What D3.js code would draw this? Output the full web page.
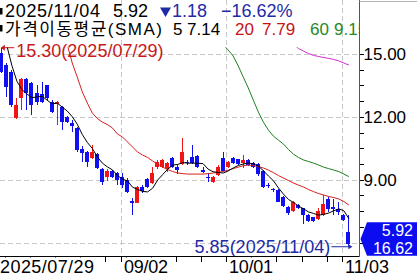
<!DOCTYPE html>
<html>
<head>
<meta charset="utf-8">
<script src="https://cdn.jsdelivr.net/npm/d3@7"></script>
<style>
  body { margin: 0; background: #fff; }
  svg { display: block; font-family: "Liberation Sans", "Noto Sans CJK KR", sans-serif; }
</style>
</head>
<body>
<svg></svg>
<script>
//initialize variables
var svgWidth = 417;
var svgHeight = 277;

// trading days, 2025/07/29 .. 2025/11/04
var dates = ["07/29","07/30","07/31","08/01","08/04","08/05","08/06","08/07","08/08","08/11",
             "08/12","08/13","08/14","08/15","08/18","08/19","08/20","08/21","08/22","08/25",
             "08/26","08/27","08/28","08/29","09/02","09/03","09/04","09/05","09/08","09/09",
             "09/10","09/11","09/12","09/15","09/16","09/17","09/18","09/19","09/22","09/23",
             "09/24","09/25","09/26","09/29","09/30","10/01","10/02","10/03","10/06","10/07",
             "10/08","10/09","10/10","10/13","10/14","10/15","10/16","10/17","10/20","10/21",
             "10/22","10/23","10/24","10/27","10/28","10/29","10/30","10/31","11/03","11/04"];

var opens  = [15.03,14.47,14.15,11.93,12.88,13.79,13.60,13.12,13.08,13.52,
              12.72,12.61,12.48,12.01,11.72,11.45,10.45,10.33,10.02,10.22,
              9.49,9.14,9.41,9.30,9.14,8.98,7.98,7.90,8.66,9.02,
              8.85,9.59,9.62,9.49,10.02,9.62,9.75,9.86,10.07,10.13,
              9.46,9.14,8.90,9.22,10.02,9.59,10.02,9.97,9.78,9.94,
              9.78,9.75,9.40,8.77,8.56,8.51,8.19,7.71,7.50,7.79,
              7.63,7.31,7.20,7.12,7.31,8.06,7.71,7.58,7.31,6.51];
var highs  = [15.30,14.56,14.24,12.88,13.87,13.84,13.68,13.52,13.68,13.52,
              12.80,12.78,12.52,12.04,11.85,11.50,10.61,10.39,10.65,10.29,
              9.54,9.49,9.46,9.36,9.33,9.06,8.11,8.70,8.74,9.06,
              9.62,9.94,9.97,9.83,10.08,9.70,10.97,9.92,10.65,10.20,
              9.59,9.30,9.18,9.70,10.33,9.88,10.10,10.00,10.18,10.00,
              9.83,9.80,9.45,8.86,8.59,8.56,8.22,7.75,7.98,7.83,
              7.66,7.36,7.24,7.63,8.27,8.19,8.06,7.96,7.36,7.31];
var lows   = [14.09,12.96,12.48,11.90,12.33,12.33,12.09,12.56,12.65,12.80,
              12.20,11.61,11.37,11.72,11.29,10.33,9.86,9.62,9.97,9.53,
              8.74,8.95,9.08,8.74,8.59,8.35,7.31,7.87,8.35,8.59,
              8.82,9.49,9.54,9.38,9.54,9.27,9.70,9.72,9.75,9.55,
              9.30,8.87,8.86,9.18,9.40,9.55,9.75,9.72,9.54,9.65,
              9.58,9.20,8.60,8.59,8.42,7.92,7.72,7.33,7.45,7.58,
              6.91,6.99,7.00,7.08,7.28,7.44,7.31,7.33,7.04,5.85];
var closes = [14.14,13.44,12.56,12.56,13.79,13.12,12.56,12.72,12.72,12.88,
              12.24,12.72,11.77,11.77,11.56,10.42,10.29,9.86,10.33,9.57,
              8.90,9.41,9.14,8.98,8.74,8.42,7.90,8.66,8.46,8.66,
              9.33,9.86,9.94,9.78,9.59,9.46,10.33,9.78,9.78,9.59,
              9.35,9.06,9.14,9.62,9.43,9.83,9.78,9.75,9.94,9.70,
              9.62,9.25,8.66,8.69,8.51,7.95,7.76,7.39,7.95,7.63,
              7.31,7.04,7.04,7.52,7.84,7.60,7.62,7.46,7.10,5.92];

// moving averages as drawn (null = not on screen)
var ma5   = [16.00,15.40,14.45,13.70,13.30,13.09,12.92,12.95,12.98,12.80,
             12.62,12.66,12.47,12.28,12.01,11.65,11.16,10.78,10.49,10.09,
             9.79,9.61,9.47,9.20,9.03,8.94,8.64,8.54,8.44,8.42,
             8.60,8.99,9.25,9.51,9.70,9.73,9.82,9.79,9.79,9.79,
             9.77,9.51,9.38,9.35,9.32,9.42,9.56,9.68,9.75,9.80,
             9.76,9.65,9.43,9.18,8.95,8.61,8.31,8.06,7.91,7.74,
             7.61,7.46,7.39,7.31,7.35,7.41,7.52,7.61,7.52,7.14];
var ma20  = [null,null,null,null,null,null,null,null,null,null,
             null,null,null,15.45,14.57,13.90,13.19,12.66,12.18,11.92,
             11.75,11.63,11.47,11.18,11.04,10.80,10.56,10.32,10.18,10.06,
             9.89,9.75,9.60,9.48,9.39,9.32,9.29,9.27,9.27,9.27,
             9.27,9.29,9.32,9.36,9.39,9.46,9.53,9.60,9.67,9.70,
             9.67,9.63,9.56,9.46,9.34,9.20,9.08,8.96,8.84,8.74,
             8.65,8.53,8.43,8.34,8.27,8.20,8.15,8.08,7.96,7.79];
var ma60  = [null,null,null,null,null,null,null,null,null,null,
             null,null,null,null,null,null,null,null,null,null,
             null,null,null,null,null,null,null,null,null,null,
             null,null,null,null,null,null,null,null,null,null,
             null,null,null,null,15.45,15.19,14.90,14.43,13.90,13.38,
             12.80,12.23,11.75,11.37,11.08,10.89,10.70,10.44,10.22,10.06,
             9.94,9.87,9.79,9.70,9.60,9.53,9.46,9.39,9.27,9.15];
var ma120 = [null,null,null,null,null,null,null,null,null,null,
             null,null,null,null,null,null,null,null,null,null,
             null,null,null,null,null,null,null,null,null,null,
             null,null,null,null,null,null,null,null,null,null,
             null,null,null,null,null,null,null,null,null,null,
             null,null,null,null,null,null,null,null,15.45,15.26,
             15.14,15.02,14.93,14.88,14.83,14.79,14.74,14.67,14.57,14.47];

var yTickValues = [15, 12, 9, 6];
var gridDates = ["09/02", "10/01", "11/03"];
var labelDates = ["09/02", "10/01", "11/03"];
var firstLabel = "2025/07/29";
var lastDate = "2025/11/04";

var upColor = "#f01414", downColor = "#1010f0";
var navy = "#1f2aa6";

var svg = d3.select("svg")
            .attr("width", svgWidth)
            .attr("height", svgHeight);

var plotRight = 359.5;
var plotBottom = 256.5;

var x = d3.scaleBand().domain(d3.range(dates.length)).range([-1.2, 350.9]);
var y = d3.scaleLinear().domain([6, 15]).range([242.6, 54]);
function cx(i){ return x(i) + x.bandwidth() / 2; }

var hiIdx = d3.maxIndex(highs);
var loIdx = d3.minIndex(lows);
var yTop = y(highs[hiIdx]) - 0.5;

var defs = svg.append("defs");
defs.append("clipPath").attr("id", "plotClip").append("rect")
    .attr("x", 0).attr("y", yTop).attr("width", plotRight).attr("height", plotBottom - yTop);
defs.append("clipPath").attr("id", "legendClip").append("rect")
    .attr("x", 0).attr("y", 0).attr("width", plotRight).attr("height", 45);

//gridlines
var grid = svg.append("g").attr("stroke", "#c8c8c8").attr("stroke-dasharray", "5,3");
grid.selectAll("line.h").data(yTickValues).enter().append("line")
    .attr("x1", 0).attr("x2", plotRight)
    .attr("y1", function(d){ return Math.round(y(d)) + 0.5; })
    .attr("y2", function(d){ return Math.round(y(d)) + 0.5; });
grid.selectAll("line.v").data(gridDates).enter().append("line")
    .attr("x1", function(d){ return Math.round(x(dates.indexOf(d))) + 1.5; })
    .attr("x2", function(d){ return Math.round(x(dates.indexOf(d))) + 1.5; })
    .attr("y1", 0).attr("y2", plotBottom);

//candles
var plot = svg.append("g").attr("clip-path", "url(#plotClip)");
var candles = plot.selectAll("g.candle").data(d3.range(dates.length)).enter().append("g")
    .attr("shape-rendering", "crispEdges")
    .attr("fill", function(i){ return closes[i] >= opens[i] ? upColor : downColor; });
candles.append("rect")
    .attr("x", function(i){ return Math.round(cx(i) - 2) + 2; })
    .attr("width", 1)
    .attr("y", function(i){ return y(highs[i]); })
    .attr("height", function(i){ return y(lows[i]) - y(highs[i]); });
candles.append("rect")
    .attr("x", function(i){ return Math.round(cx(i) - 2); })
    .attr("width", 4)
    .attr("y", function(i){ return y(Math.max(opens[i], closes[i])); })
    .attr("height", function(i){ return Math.max(1, Math.abs(y(opens[i]) - y(closes[i]))); });

//moving average lines
var maSeries = [
  { values: ma120, color: "#d22cd2" },
  { values: ma60,  color: "#1f7f1f" },
  { values: ma20,  color: "#d42020" },
  { values: ma5,   color: "#000000" }
];
var line = d3.line()
    .defined(function(d){ return d != null; })
    .x(function(d, i){ return cx(i) + 0.5; })
    .y(function(d){ return y(d); });
plot.selectAll("path.ma").data(maSeries).enter().append("path")
    .attr("fill", "none")
    .attr("stroke", function(s){ return s.color; })
    .attr("stroke-width", 1)
    .attr("d", function(s){ return line(s.values); });

//high / low markers
var yh = y(highs[hiIdx]);
var hx = cx(hiIdx);
var hi = svg.append("g").attr("fill", "#c81818").attr("stroke", "#c81818");
hi.append("line").attr("x1", hx + 2).attr("x2", hx + 13).attr("y1", yh).attr("y2", yh);
hi.append("path").attr("stroke", "none")
  .attr("d", "M" + (hx - 0.5) + "," + yh + "l4,-3v6z");
hi.append("text").attr("stroke", "none").attr("font-size", 18)
  .attr("x", hx + 15).attr("y", yh + 9)
  .text(highs[hiIdx].toFixed(2) + "(" + firstLabel + ")");

var yl = y(lows[loIdx]) + 1;
var lx = cx(loIdx);
var lo = svg.append("g").attr("fill", navy).attr("stroke", navy);
lo.append("line").attr("x1", lx - 17).attr("x2", lx + 1).attr("y1", yl).attr("y2", yl);
lo.append("path").attr("stroke", "none")
  .attr("d", "M" + (lx + 4) + "," + yl + "l-4,-2.5v5z");
lo.append("text").attr("stroke", "none").attr("font-size", 18)
  .attr("text-anchor", "end")
  .attr("x", lx - 18).attr("y", yl + 6.5)
  .text(lows[loIdx].toFixed(2) + "(" + lastDate + ")");

//x axis
svg.append("line").attr("stroke", "#000")
   .attr("x1", 0).attr("x2", plotRight).attr("y1", plotBottom).attr("y2", plotBottom);
var weekStarts = d3.range(dates.length).filter(function(i){
  if (i === 0) return false;
  var a = d3.timeParse("%m/%d")(dates[i]), b = d3.timeParse("%m/%d")(dates[i - 1]);
  return d3.timeMonday.floor(a).getTime() !== d3.timeMonday.floor(b).getTime();
});
var tickIdx = weekStarts.concat(labelDates.map(function(d){ return dates.indexOf(d); }));
svg.append("g").attr("stroke", "#000").attr("shape-rendering", "crispEdges")
   .selectAll("line").data(tickIdx).enter().append("line")
   .attr("x1", function(i){ return Math.round(x(i)) + 1.5; })
   .attr("x2", function(i){ return Math.round(x(i)) + 1.5; })
   .attr("y1", plotBottom).attr("y2", plotBottom + 5);

var xLabelData = [{ text: firstLabel, x: 0, w: 94 }].concat(labelDates.map(function(d){
  return { text: d, x: Math.round(x(dates.indexOf(d))) + 4, w: 44 };
}));
var xl = svg.append("g").selectAll("g").data(xLabelData).enter().append("g");
xl.append("rect").attr("fill", "#fff")
  .attr("x", function(d){ return d.x; }).attr("y", plotBottom + 1)
  .attr("width", function(d){ return d.w; }).attr("height", 20);
xl.append("text").attr("font-size", 18).attr("fill", "#000")
  .attr("x", function(d){ return d.x; }).attr("y", 272.5)
  .attr("textLength", function(d){ return d.w; })
  .text(function(d){ return d.text; });

//current price box
var last = closes.length - 1;
var prev = closes[last - 1];
var change = closes[last] - prev;
var pct = change / prev * 100;
var by = Math.min(y(closes[last]), plotBottom - 17.5);

//y axis
svg.append("line").attr("stroke", "#555")
   .attr("x1", plotRight).attr("x2", plotRight).attr("y1", 0).attr("y2", plotBottom);
svg.append("line").attr("stroke", "#b4b4b4")
   .attr("x1", plotRight).attr("x2", svgWidth).attr("y1", 1.5).attr("y2", 1.5);
var minorTicks = d3.range(5.25, 15.8, 0.75).filter(function(v){ return y(v) >= yTop - 1 && y(v) <= plotBottom; });
svg.append("g").attr("stroke", "#000").attr("shape-rendering", "crispEdges")
   .selectAll("line").data(minorTicks).enter().append("line")
   .attr("x1", plotRight).attr("x2", plotRight + 4)
   .attr("y1", function(d){ return Math.round(y(d)) + 0.5; })
   .attr("y2", function(d){ return Math.round(y(d)) + 0.5; });
// the label under the price box is hidden by it
svg.append("g").selectAll("text")
   .data(yTickValues.filter(function(v){ return y(v) + 8 < by - 16.7; }))
   .enter().append("text")
   .attr("font-size", 17).attr("fill", "#000")
   .attr("x", plotRight + 4).attr("y", function(d){ return y(d) + 6; })
   .text(function(d){ return d.toFixed(2); });

svg.append("path").attr("fill", "#0c0cf0")
   .attr("d", "M" + (plotRight + 1) + "," + by + "L367," + (by - 16.7) + "H" + svgWidth +
              "V" + (by + 16.7) + "H367Z");
svg.append("text").attr("font-size", 16).attr("fill", "#fff").attr("text-anchor", "end")
   .attr("x", 413).attr("y", by - 3).text(closes[last].toFixed(2));
svg.append("text").attr("font-size", 16).attr("fill", "#fff").attr("text-anchor", "end")
   .attr("x", 413).attr("y", by + 15).text(Math.abs(pct).toFixed(2));

//legend
var legend = svg.append("g").attr("clip-path", "url(#legendClip)").attr("font-size", 18);
legend.append("rect").attr("x", 0).attr("y", 8).attr("width", 2.5).attr("height", 6.5).attr("fill", "#000");
legend.append("rect").attr("x", 0).attr("y", 25).attr("width", 2.5).attr("height", 6.5).attr("fill", "#000");
legend.append("text").attr("x", 5).attr("y", 17).attr("fill", "#000").attr("textLength", 95).text(lastDate);
legend.append("text").attr("x", 113).attr("y", 17).attr("fill", "#000").text(closes[last].toFixed(2));
legend.append("path").attr("fill", navy).attr("d", "M160,7.5H171L165.5,17Z");
legend.append("text").attr("x", 172).attr("y", 17).attr("fill", navy).text(Math.abs(change).toFixed(2));
legend.append("text").attr("x", 221).attr("y", 17).attr("fill", navy).text("\u2212" + Math.abs(pct).toFixed(2) + "%");

legend.append("text").attr("x", 5).attr("y", 35).attr("fill", "#000").attr("font-size", 17)
      .attr("textLength", 157).text("가격이동평균(SMA)");
var row2 = legend.append("g").attr("font-size", 17);
row2.append("text").attr("x", 173).attr("y", 35).attr("fill", "#000").text("5");
row2.append("text").attr("x", 187).attr("y", 35).attr("fill", "#000").text(ma5[last].toFixed(2));
row2.append("text").attr("x", 235).attr("y", 35).attr("fill", "#c81414").text("20");
row2.append("text").attr("x", 262).attr("y", 35).attr("fill", "#c81414").text(ma20[last].toFixed(2));
row2.append("text").attr("x", 310).attr("y", 35).attr("fill", "#268a26").text("60");
row2.append("text").attr("x", 334).attr("y", 35).attr("fill", "#268a26").text(ma60[last].toFixed(2));
</script>
</body>
</html>
